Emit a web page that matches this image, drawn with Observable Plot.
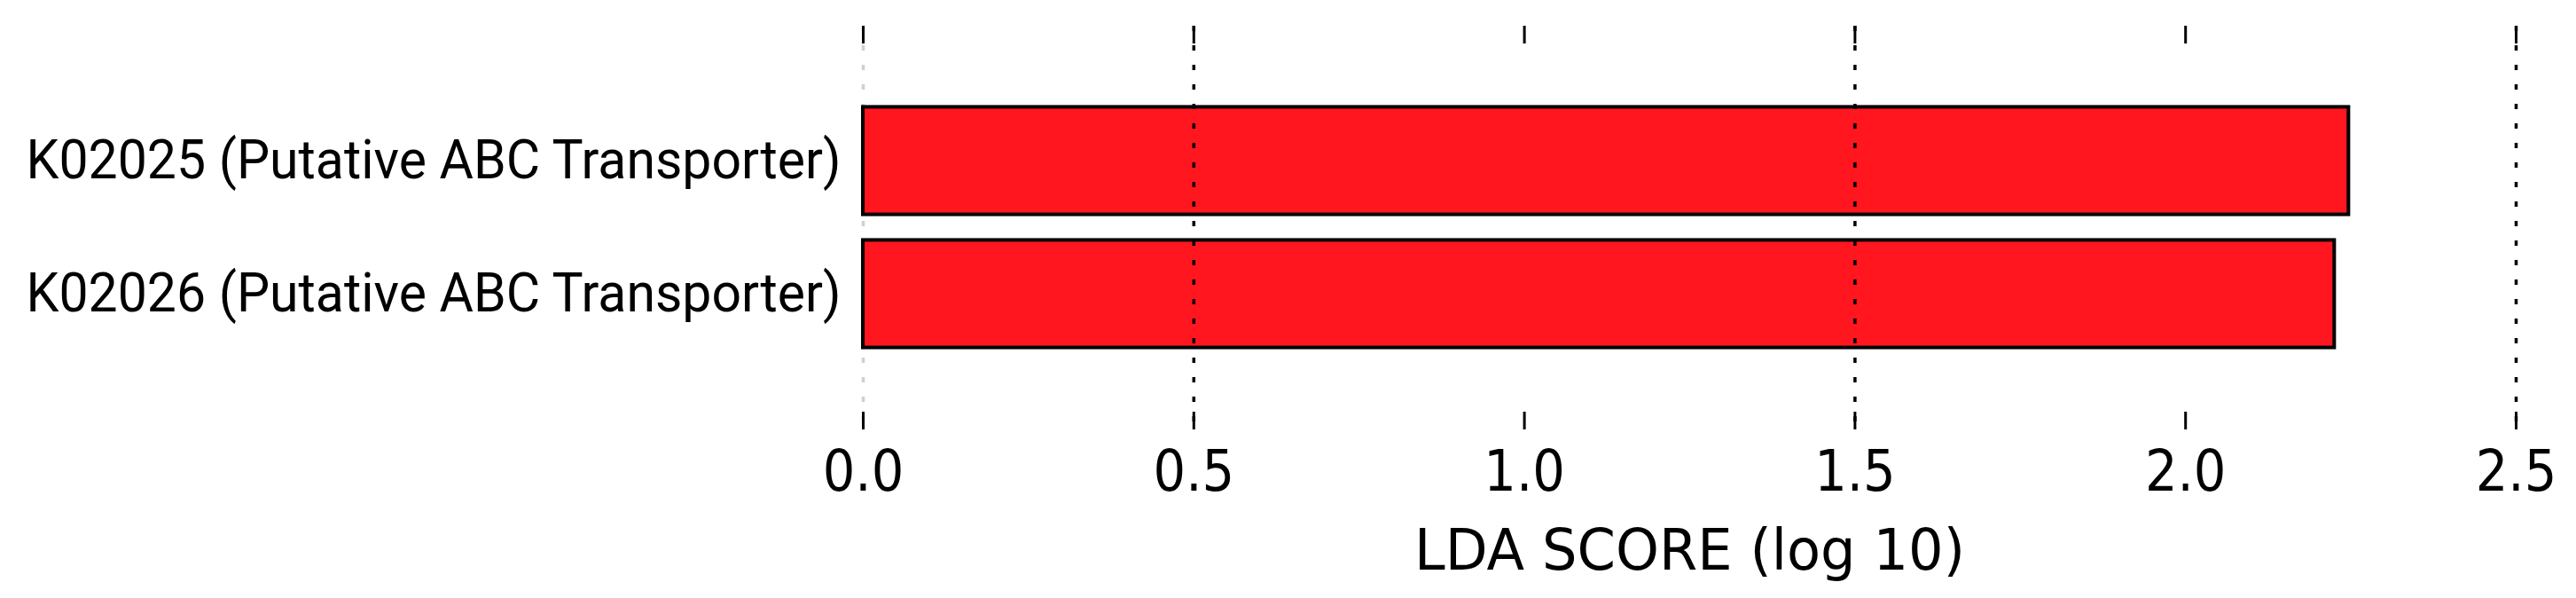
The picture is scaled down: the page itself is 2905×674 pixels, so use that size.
<!DOCTYPE html>
<html><head><meta charset="utf-8">
<script src="https://cdn.jsdelivr.net/npm/d3@7"></script>
<script src="https://cdn.jsdelivr.net/npm/@observablehq/plot@0.6"></script>
<style>body{margin:0;background:#fff}</style>
</head><body><div id="chart"></div>
<script>
const features = ["K02025 (Putative ABC Transporter)", "K02026 (Putative ABC Transporter)"];
const ldaScores = [2.247, 2.2255];
const xTicks = [0, 0.5, 1, 1.5, 2, 2.5];
const xTickLabels = ["0.0", "0.5", "1.0", "1.5", "2.0", "2.5"];
const gridDark = [0.5, 1.5, 2.5];
const gridLight = [0];
const xLabel = "LDA SCORE (log 10)";

const data = features.map((f, i) => ({feature: f, score: ldaScores[i]}));
const W = 2905, H = 674, mt = 29, mb = 190, ml = 973, mr = 68;
const frameH = H - mt - mb;
const tick = 20;
const yLabelWidth = 919;
const xLabelWidth = 621;
const chart = Plot.plot({
  width: W, height: H, marginTop: mt, marginBottom: mb, marginLeft: ml, marginRight: mr,
  style: {background: "#fff", color: "#000"},
  x: {domain: [0, 2.5]},
  y: {domain: features, range: [105.4, 406.9], padding: 0},
  marks: [
    Plot.ruleX(gridLight, {stroke: "#d0d0d0", strokeWidth: 3.5, strokeDasharray: "6,16"}),
    Plot.barX(data, {x: "score", y: "feature", fill: "#ff161e", stroke: "#000", strokeWidth: 4, insetTop: 14.4, insetBottom: 14.4}),
    Plot.ruleX(gridDark, {stroke: "#000", strokeWidth: 3.5, strokeDasharray: "6,16"}),
    Plot.ruleX(xTicks, {stroke: "#000", strokeWidth: 3, insetBottom: frameH - tick}),
    Plot.ruleX(xTicks, {stroke: "#000", strokeWidth: 3, insetTop: frameH - tick}),
    Plot.axisX({anchor: "bottom", ticks: xTicks, tickFormat: d => xTickLabels[xTicks.indexOf(d)], tickSize: 0, tickPadding: 23,
      fontSize: 64, fontFamily: "DejaVu Sans Condensed", label: null}),
    Plot.axisX({anchor: "bottom", ticks: [], tickSize: 0, fontSize: 64, fontFamily: "DejaVu Sans",
      label: xLabel, labelAnchor: "center", labelArrow: "none", labelOffset: 157}),
    Plot.axisY({anchor: "left", tickSize: 0, tickPadding: 25, fontSize: 62, fontFamily: "Roboto", label: null})
  ]
});
d3.select(chart).selectAll('g[aria-label="y-axis tick label"] text')
  .attr("textLength", yLabelWidth).attr("lengthAdjust", "spacingAndGlyphs");
d3.select(chart).selectAll('g[aria-label="x-axis label"] text')
  .attr("textLength", xLabelWidth).attr("lengthAdjust", "spacingAndGlyphs");
document.getElementById("chart").appendChild(chart);
</script>
</body></html>
